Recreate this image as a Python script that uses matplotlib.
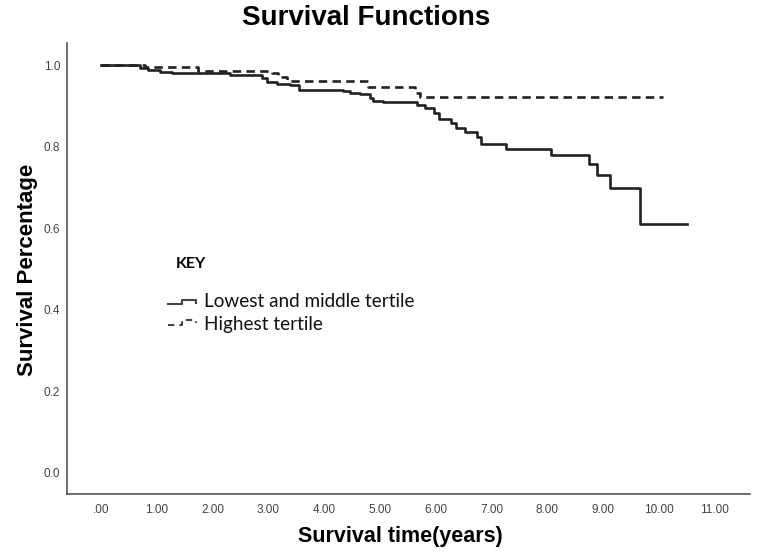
import matplotlib.pyplot as plt
from matplotlib.lines import Line2D

plt.rcParams['font.family'] = ['Liberation Sans', 'DejaVu Sans']

# Kaplan-Meier style step data
low_mid_time = [0, 0.70, 0.85, 1.06, 1.27, 1.71, 2.31, 2.88, 2.97, 3.15,
                3.39, 3.54, 4.34, 4.46, 4.64, 4.82, 4.88, 5.06, 5.66, 5.81,
                5.96, 6.05, 6.28, 6.37, 6.52, 6.73, 6.81, 7.26, 8.06, 8.75,
                8.88, 9.13, 9.65, 10.50]
low_mid_surv = [1.0, 0.992, 0.988, 0.984, 0.981, 0.980, 0.975, 0.967, 0.959, 0.953,
                0.951, 0.940, 0.937, 0.932, 0.928, 0.918, 0.912, 0.909, 0.903, 0.894,
                0.882, 0.868, 0.857, 0.846, 0.837, 0.824, 0.806, 0.794, 0.779, 0.757,
                0.730, 0.698, 0.610, 0.610]

high_time = [0, 0.78, 1.74, 3.06, 3.18, 3.33, 4.79, 5.63, 5.72, 10.07]
high_surv = [1.0, 0.995, 0.986, 0.980, 0.970, 0.962, 0.947, 0.932, 0.921, 0.921]

x_ticks = list(range(12))
x_labels = ['.00'] + [f'{v}.00' for v in range(1, 12)]
y_ticks = [0.0, 0.2, 0.4, 0.6, 0.8, 1.0]
legend_labels = ['Lowest and middle tertile', 'Highest tertile']

W, H = 760, 556
fig = plt.figure(figsize=(W / 100, H / 100), dpi=100)
ax = fig.add_axes([67 / W, 1 - 494 / H, (750 - 67) / W, (494 - 43) / H])

line_col = '#222222'
ax.step(low_mid_time, low_mid_surv, where='post', color=line_col, lw=1.9)
ax.step(high_time, high_surv, where='post', color=line_col, lw=1.9,
        linestyle=(0, (3.2, 2.0)))

ax.set_xlim(-0.609, 11.63)
ax.set_ylim(-0.0515, 1.054)
ax.set_xticks(x_ticks)
ax.set_xticklabels(x_labels)
ax.set_yticks(y_ticks)
ax.set_yticklabels([f'{v:.1f}' for v in y_ticks])
ax.tick_params(axis='both', length=0, labelsize=8.5, colors='#444444')
ax.tick_params(axis='x', pad=7)
ax.tick_params(axis='y', pad=5)
for s in ['top', 'right']:
    ax.spines[s].set_visible(False)
for s in ['left', 'bottom']:
    ax.spines[s].set_color('#555555')
    ax.spines[s].set_linewidth(1.2)

fig.text(366 / W, 1 - 25 / H, 'Survival Functions', ha='center', va='baseline',
         fontsize=20, fontweight='bold')
fig.text(400 / W, 1 - 542 / H, 'Survival time(years)', ha='center', va='baseline',
         fontsize=15.5, fontweight='bold')
fig.text(28 / W, 1 - 270 / H, 'Survival Percentage', ha='center', va='center',
         rotation=90, fontsize=16, fontweight='bold')

# key drawn in the style of the original figure
def px(xs, ys):
    return [x / W for x in xs], [1 - y / H for y in ys]

fig.text(176 / W, 1 - 268 / H, 'KEY', fontsize=11.5, fontweight='bold',
         family=['Lato', 'DejaVu Sans'], va='baseline')
gx, gy = px([168, 182, 182, 196, 196], [304, 304, 300, 300, 303])
fig.add_artist(Line2D(gx, gy, color='#444444', lw=1.5))
gx, gy = px([168, 182, 182, 196, 196], [325, 325, 320, 320, 323])
fig.add_artist(Line2D(gx, gy, color='#444444', lw=1.5, linestyle=(0, (3, 2.5))))
fig.text(204 / W, 1 - 307 / H, legend_labels[0], fontsize=13.6,
         family=['Lato', 'DejaVu Sans'], va='baseline', color='#111111')
fig.text(204 / W, 1 - 330 / H, legend_labels[1], fontsize=13.6,
         family=['Lato', 'DejaVu Sans'], va='baseline', color='#111111')

fig.savefig('out.png', dpi=100)
